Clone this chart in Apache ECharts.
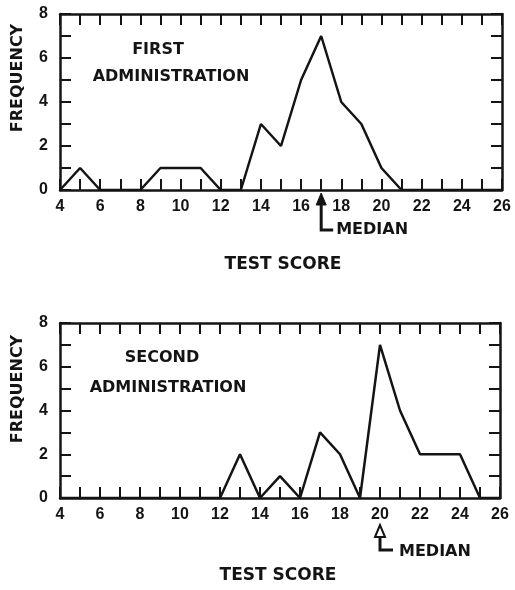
<!DOCTYPE html>
<html>
<head>
<meta charset="utf-8">
<script src="https://cdn.jsdelivr.net/npm/echarts@6/dist/echarts.min.js"></script>
<style>
html,body{margin:0;padding:0;background:#fff;}
#c{width:515px;height:590px;}
</style>
</head>
<body>
<div id="c"></div>
<script>
// ---- data ----
const scores = [4,5,6,7,8,9,10,11,12,13,14,15,16,17,18,19,20,21,22,23,24,25,26];
const firstFreq = [0,1,0,0,0,1,1,1,0,0,3,2,5,7,4,3,1,0,0,0,0,0,0];
const secondFreq = [0,0,0,0,0,0,0,0,0,2,0,1,0,3,2,0,7,4,2,2,2,0,0];
const panelTitles = [['FIRST','ADMINISTRATION'], ['SECOND','ADMINISTRATION']];
const medians = [17, 20];
const xTitle = 'TEST SCORE';
const yTitle = 'FREQUENCY';

const INK = '#141414';
const numFont = {fontFamily:'Liberation Sans', fontWeight:'bold', fontSize:16, color:INK};

function pairs(freq){ return scores.map((s,i)=>[s,freq[i]]); }

const grids = [
  {left:60, top:14, width:442, height:176},
  {left:60, top:323, width:440, height:175}
];

function xAx(gi, pos, showLabel){
  return {
    type:'value', gridIndex:gi, position:pos, min:4, max:26, interval:1,
    axisLine:{show:true, onZero:false, lineStyle:{color:INK, width:2.5}},
    axisTick:{show:true, inside:true, length:11, lineStyle:{color:INK, width:2}},
    axisLabel:{show:showLabel, margin:9, ...numFont,
      formatter:v=> (v%2===0 ? String(v) : '')},
    splitLine:{show:false}
  };
}
function yAx(gi, pos, showLabel){
  return {
    type:'value', gridIndex:gi, position:pos, min:0, max:8, interval:1,
    axisLine:{show:true, onZero:false, lineStyle:{color:INK, width:2.5}},
    axisTick:{show:true, inside:true, length:11, lineStyle:{color:INK, width:2}},
    axisLabel:{show:showLabel, margin:12, ...numFont,
      formatter:v=> (v%2===0 ? String(v) : '')},
    splitLine:{show:false}
  };
}

const chart = echarts.init(document.getElementById('c'), null, {renderer:'canvas'});
const option = {
  backgroundColor:'#fff',
  animation:false,
  grid:grids,
  xAxis:[xAx(0,'bottom',true), xAx(0,'top',false), xAx(1,'bottom',true), xAx(1,'top',false)],
  yAxis:[yAx(0,'left',true), yAx(0,'right',false), yAx(1,'left',true), yAx(1,'right',false)],
  series:[
    {type:'line', xAxisIndex:0, yAxisIndex:0, data:pairs(firstFreq), showSymbol:false,
     lineStyle:{color:INK, width:2.5}, z:3},
    {type:'line', xAxisIndex:2, yAxisIndex:2, data:pairs(secondFreq), showSymbol:false,
     lineStyle:{color:INK, width:2.5}, z:3}
  ]
};
chart.setOption(option);

// ---- annotations ----
const g = [];
function addText(x,y,text,size,align,rot){
  g.push({type:'text', x:x, y:y, rotation:rot||0,
    style:{text:text, fontFamily:'DejaVu Sans', fontWeight:'bold', fontSize:size,
      fill:INK, textAlign:align||'center', textVerticalAlign:'middle'}});
}
// panel titles
addText(158, 50, panelTitles[0][0], 16);
addText(171, 77, panelTitles[0][1], 16);
addText(162, 358, panelTitles[1][0], 16);
addText(168, 388, panelTitles[1][1], 16);
// axis titles
addText(18, 78, yTitle, 16, 'center', Math.PI/2);
addText(18, 389, yTitle, 16, 'center', Math.PI/2);
addText(283, 265, xTitle, 17);
addText(278, 576, xTitle, 17);

// median arrows
const p0 = chart.convertToPixel({xAxisIndex:0, yAxisIndex:0}, [medians[0], 0]);
const p1 = chart.convertToPixel({xAxisIndex:2, yAxisIndex:2}, [medians[1], 0]);
(function(){
  const x = p0[0], y = p0[1];
  g.push({type:'polygon', shape:{points:[[x,y+3],[x-5,y+15],[x+5,y+15]]}, style:{fill:INK, stroke:INK, lineWidth:1}});
  g.push({type:'polyline', shape:{points:[[x,y+12],[x,y+40],[x+12,y+40]]}, style:{stroke:INK, lineWidth:3, fill:null}});
  addText(x+15, y+40, 'MEDIAN', 16, 'left');
})();
(function(){
  const x = p1[0], y = p1[1];
  g.push({type:'polygon', shape:{points:[[x,y+27],[x-5,y+39],[x+5,y+39]]}, style:{fill:'#fff', stroke:INK, lineWidth:2}});
  g.push({type:'polyline', shape:{points:[[x,y+39],[x,y+52],[x+13,y+52]]}, style:{stroke:INK, lineWidth:3, fill:null}});
  addText(x+19, y+54, 'MEDIAN', 16, 'left');
})();
chart.setOption({graphic:g});
</script>
</body>
</html>
